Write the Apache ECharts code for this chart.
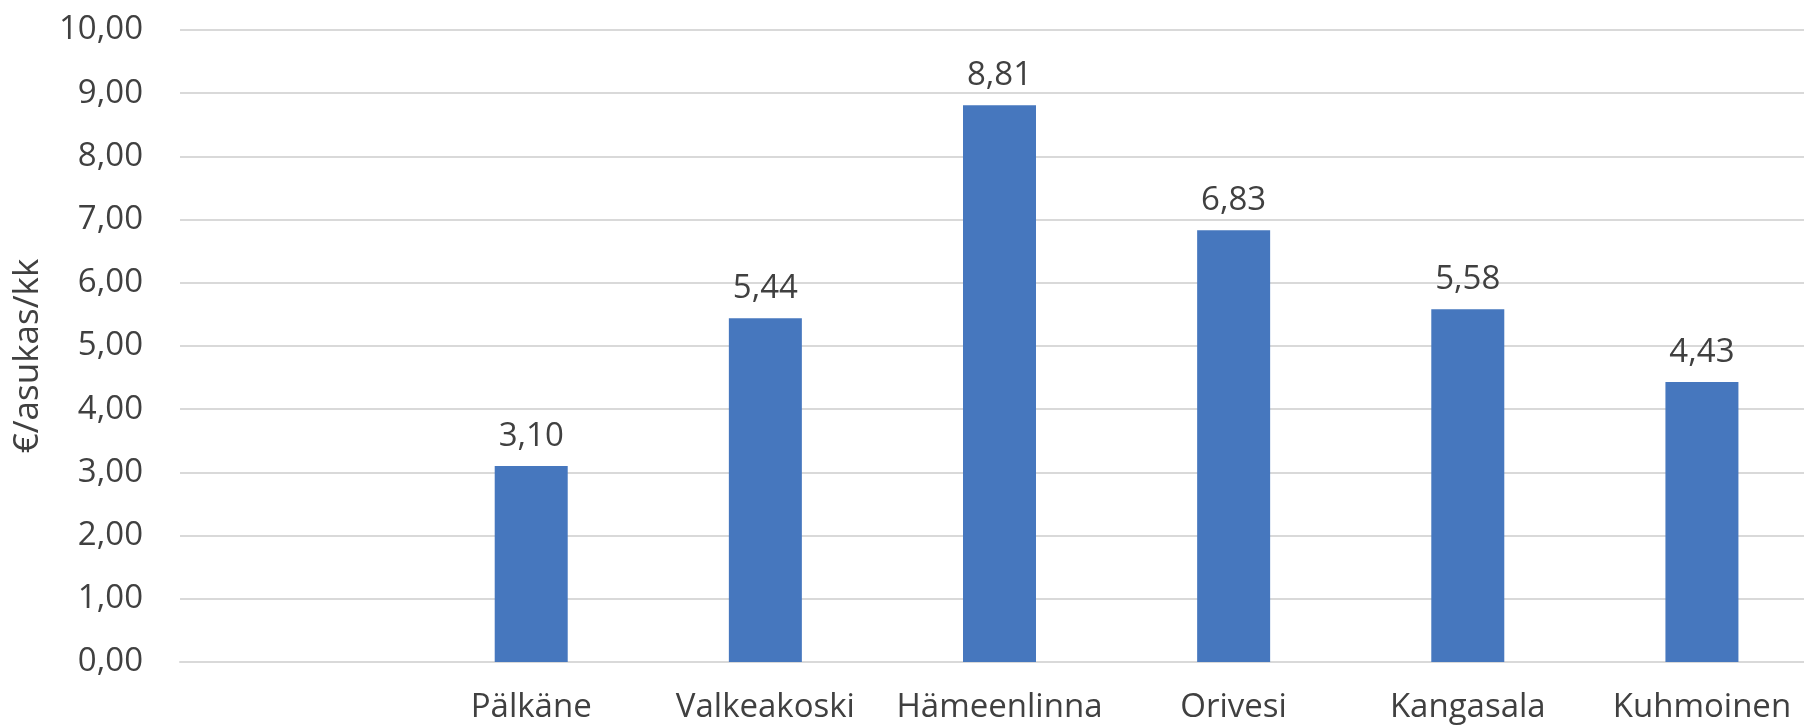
<!DOCTYPE html>
<html>
<head>
<meta charset="utf-8">
<script src="https://cdn.jsdelivr.net/npm/echarts@6/dist/echarts.min.js"></script>
<style>
html,body{margin:0;padding:0;background:#fff;overflow:hidden;width:1804px;height:726px;}
#chart{width:1819px;height:726px;}
</style>
</head>
<body>
<div id="chart"></div>
<script>
const categories = ['', 'Pälkäne', 'Valkeakoski', 'Hämeenlinna', 'Orivesi', 'Kangasala', 'Kuhmoinen'];
const values = [null, 3.10, 5.44, 8.81, 6.83, 5.58, 4.43];
const yAxisTitle = '€/asukas/kk';
const yMin = 0, yMax = 10, yStep = 1;

const fmt = v => v.toFixed(2).replace('.', ',');
const FONT = '"Open Sans", sans-serif';
const TXT = '#404040';

const chart = echarts.init(document.getElementById('chart'));
chart.setOption({
  animation: false,
  backgroundColor: '#ffffff',
  grid: { left: 180, right: 0, top: 30, bottom: 64 },
  xAxis: {
    type: 'category',
    data: categories,
    axisLine: { show: true, lineStyle: { color: '#d9d9d9', width: 2 } },
    axisTick: { show: false },
    axisLabel: { color: TXT, fontFamily: FONT, fontSize: 33, margin: 29, interval: 0 }
  },
  yAxis: {
    type: 'value',
    min: yMin, max: yMax, interval: yStep,
    name: yAxisTitle,
    nameLocation: 'middle',
    nameRotate: 90,
    nameGap: 134,
    nameTextStyle: { color: TXT, fontFamily: FONT, fontSize: 35, padding: [0, 20, 0, 0] },
    axisLine: { show: false },
    axisTick: { show: false },
    splitLine: { lineStyle: { color: '#d9d9d9', width: 2 } },
    axisLabel: { color: TXT, fontFamily: FONT, fontSize: 33, margin: 37, formatter: v => fmt(v) }
  },
  series: [{
    type: 'bar',
    data: values,
    barWidth: 73,
    itemStyle: { color: '#4677be' },
    label: {
      show: true, position: 'top', distance: 13,
      color: TXT, fontFamily: FONT, fontSize: 33,
      formatter: p => fmt(p.value)
    }
  }]
});
</script>
</body>
</html>
